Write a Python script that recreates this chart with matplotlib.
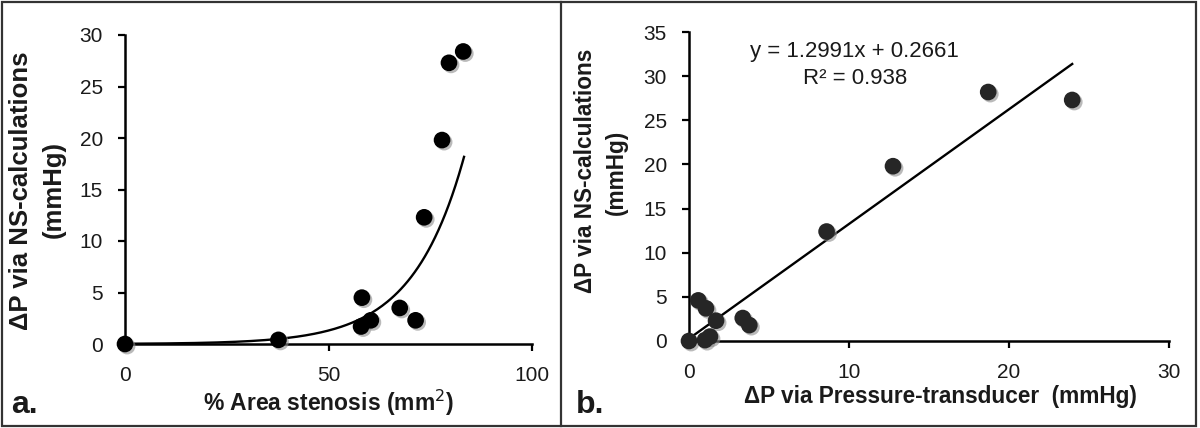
import matplotlib
matplotlib.use("Agg")
import matplotlib.pyplot as plt
import matplotlib.patheffects as pe
import numpy as np

plt.rcParams['font.family'] = ['Liberation Sans', 'DejaVu Sans']

# ---- data ----
stenosis_pct = [0, 37.7, 58.2, 58.0, 60.4, 67.5, 71.4, 73.5, 77.9, 79.6, 83.1]
dp_ns_a = [0.0, 0.4, 4.5, 1.7, 2.3, 3.5, 2.3, 12.3, 19.8, 27.3, 28.4]

dp_transducer = [0.0, 0.58, 1.06, 1.69, 1.0, 1.31, 3.36, 3.77, 8.6, 12.75, 18.7, 23.95]
dp_ns_b = [0.0, 4.6, 3.7, 2.3, 0.1, 0.5, 2.6, 1.8, 12.4, 19.8, 28.2, 27.3]

exp_a, exp_b = 0.0252, 0.079          # exponential trendline y = a*exp(b*x)
slope, intercept = 1.2991, 0.2661     # linear trendline
r2 = 0.938

xticks_a = [0, 50, 100]
yticks_a = [0, 5, 10, 15, 20, 25, 30]
xticks_b = [0, 10, 20, 30]
yticks_b = [0, 5, 10, 15, 20, 25, 30, 35]

W, H = 1200, 428
fig = plt.figure(figsize=(W / 100, H / 100), dpi=100)

def fx(px):
    return px / W

def fy(py):
    return 1 - py / H

shadow = [pe.SimplePatchShadow(offset=(1.5, -1.5), shadow_rgbFace='0.55', alpha=0.6), pe.Normal()]

def style_axes(ax, xt, yt, xl, yl):
    for s in ['top', 'right']:
        ax.spines[s].set_visible(False)
    for s in ['left', 'bottom']:
        ax.spines[s].set_linewidth(1.8)
        ax.spines[s].set_color('black')
    ax.set_xlim(*xl)
    ax.set_ylim(*yl)
    ax.set_xticks(xt)
    ax.set_yticks(yt)
    ax.tick_params(axis='both', direction='out', length=5, width=1.6, labelsize=15,
                   colors='black', labelcolor='#1a1a1a')
    ax.tick_params(axis='x', pad=11)
    ax.tick_params(axis='y', pad=11)

# ---- panel a ----
axa = fig.add_axes([fx(125), fy(344), fx(532 - 125), (344 - 35) / H])
style_axes(axa, xticks_a, yticks_a, (0, 100), (0, 30))
xs = np.linspace(0, max(stenosis_pct) + 0.2, 200)
axa.plot(xs, exp_a * np.exp(exp_b * xs), color='black', lw=1.7, zorder=2)
axa.plot(stenosis_pct, dp_ns_a, 'o', color='black', ms=12, mew=0, clip_on=False,
         zorder=3, path_effects=shadow)

# ---- panel b ----
axb = fig.add_axes([fx(689), fy(341), fx(1169 - 689), (341 - 32) / H])
style_axes(axb, xticks_b, yticks_b, (0, 30), (0, 35))
xl = np.array([0, max(dp_transducer)])
axb.plot(xl, slope * xl + intercept, color='black', lw=1.7, zorder=2)
axb.plot(dp_transducer, dp_ns_b, 'o', color='#262626', ms=12, mew=0, clip_on=False,
         zorder=3, path_effects=shadow)
axb.text(fx(854 - 689) / fx(480), 1 - (52 - 32) / 309, f"y = {slope:.4f}x + {intercept:.4f}",
         transform=axb.transAxes, ha='center', va='center', fontsize=16, color='#1a1a1a')
axb.text(fx(855 - 689) / fx(480), 1 - (79 - 32) / 309, f"R² = {r2:.3f}",
         transform=axb.transAxes, ha='center', va='center', fontsize=16, color='#1a1a1a')

# ---- labels ----
bold = dict(fontweight='bold', color='#1a1a1a')
fig.text(fx(21), fy(191), "ΔP via NS-calculations", rotation=90, ha='center', va='center',
         fontsize=18.5, **bold)
fig.text(fx(54), fy(190), "(mmHg)", rotation=90, ha='center', va='center', fontsize=18.5, **bold)
fig.text(fx(328), fy(403), "% Area stenosis (mm$^2$)", ha='center', va='center', fontsize=16.5, **bold)

fig.text(fx(585), fy(171), "ΔP via NS-calculations", rotation=90, ha='center', va='center',
         fontsize=16.3, **bold)
fig.text(fx(616), fy(172), "(mmHg)", rotation=90, ha='center', va='center', fontsize=16.3, **bold)
fig.text(fx(940), fy(396), "ΔP via Pressure-transducer  (mmHg)", ha='center', va='center',
         fontsize=16.3, **bold)

fig.text(fx(11), fy(413), "a.", ha='left', va='baseline', fontsize=23, **bold)
fig.text(fx(576), fy(413), "b.", ha='left', va='baseline', fontsize=23, **bold)

# ---- frame & divider ----
from matplotlib.lines import Line2D
from matplotlib.patches import Rectangle
fig.patches.append(Rectangle((fx(2), fy(426)), fx(1196 - 2), (426 - 2) / H, transform=fig.transFigure,
                             fill=False, edgecolor='#333333', lw=1.6))
fig.lines.append(Line2D([fx(561), fx(561)], [fy(2), fy(426)], transform=fig.transFigure,
                        color='#333333', lw=1.6))

fig.savefig("out.png", dpi=100, facecolor='white')
